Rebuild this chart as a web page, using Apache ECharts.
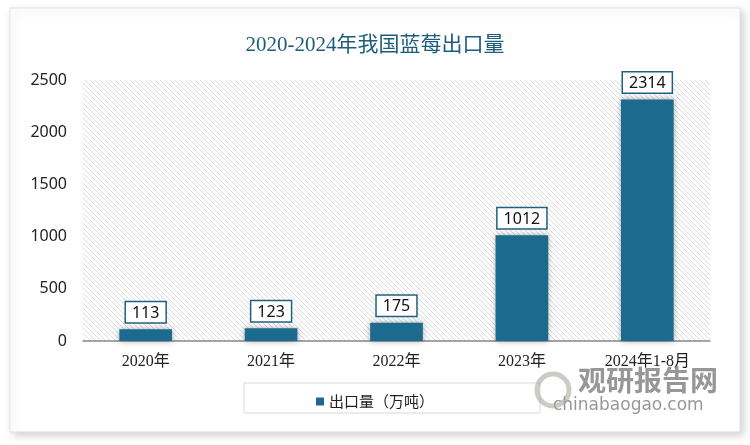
<!DOCTYPE html>
<html><head><meta charset="utf-8">
<script src="https://cdn.jsdelivr.net/npm/echarts@6/dist/echarts.min.js"></script>
<style>html,body{margin:0;padding:0;background:#fff}#c{width:750px;height:445px}</style>
</head><body><div id="c"></div>
<script>
var categories = ['2020年', '2021年', '2022年', '2023年', '2024年1-8月'];
var exportValues = [113, 123, 175, 1012, 2314];
var yTicks = [0, 500, 1000, 1500, 2000, 2500];
var seriesName = '出口量（万吨）';
var titleText = '2020-2024年我国蓝莓出口量';

// hatch pattern
var pc = document.createElement('canvas');
pc.width = 5; pc.height = 5;
var px = pc.getContext('2d');
px.fillStyle = '#ffffff'; px.fillRect(0,0,5,5);
px.strokeStyle = '#dcdcdc'; px.lineWidth = 1;
px.beginPath();
px.moveTo(0,0); px.lineTo(5,5);
px.moveTo(-2.5,2.5); px.lineTo(2.5,7.5);
px.moveTo(2.5,-2.5); px.lineTo(7.5,2.5);
px.stroke();

var chart = echarts.init(document.getElementById('c'));
chart.setOption({
  animation: false,
  backgroundColor: '#ffffff',
  title: {
    text: titleText, left: 'center', top: 30,
    textStyle: {fontFamily: '"Liberation Serif","Noto Sans CJK SC",serif', fontSize: 21, fontWeight: 'normal', color: '#1d5d7b'}
  },
  graphic: [
    {type: 'rect', z: -10, shape: {x: 10, y: 8, width: 730, height: 424}, style: {fill: '#fff', stroke: '#e2e2e2', lineWidth: 1, shadowBlur: 8, shadowOffsetX: 3, shadowOffsetY: 3, shadowColor: 'rgba(0,0,0,0.18)'}},
    {type: 'rect', z: 1, shape: {x: 244, y: 383, width: 296, height: 30}, style: {fill: 'none', stroke: '#d9d9d9', lineWidth: 1}},
    {type: 'text', z: 5, left: 578, top: 366, style: {text: '观研报告网', fontSize: 28, fontWeight: 'bold', fill: 'rgba(125,125,125,0.8)', fontFamily: '"Noto Sans CJK SC",sans-serif'}},
    {type: 'text', z: 5, left: 553, top: 397, style: {text: 'chinabaogao.com', fontSize: 17, fill: 'rgba(125,125,125,0.8)', fontFamily: '"DejaVu Sans",sans-serif'}},
    {type: 'circle', z: 5, shape: {cx: 553, cy: 390, r: 16}, style: {fill: 'none', stroke: 'rgba(170,170,160,0.6)', lineWidth: 5}}
  ],
  legend: {
    data: [seriesName], left: 'center', top: 389, itemWidth: 8, itemHeight: 8, icon: 'rect',
    textStyle: {fontSize: 15, color: '#222', fontFamily: '"Noto Sans CJK SC",sans-serif'}
  },
  grid: {left: 83, right: 40, top: 80, bottom: 104, show: true, borderWidth: 0,
    backgroundColor: {image: pc, repeat: 'repeat'}},
  xAxis: {
    type: 'category', data: categories,
    axisLine: {lineStyle: {color: '#888', width: 1.5}},
    axisTick: {show: false},
    axisLabel: {fontSize: 16, color: '#222', margin: 13, fontFamily: '"Liberation Serif","Noto Sans CJK SC",serif'}
  },
  yAxis: {
    type: 'value', min: yTicks[0], max: yTicks[yTicks.length - 1], interval: yTicks[1] - yTicks[0],
    axisLine: {show: false}, axisTick: {show: false}, splitLine: {show: false},
    axisLabel: {fontSize: 16, color: '#222', margin: 16, fontFamily: '"Noto Sans","DejaVu Sans",sans-serif',
      formatter: function (v) { return String(v); }}
  },
  series: [{
    name: seriesName, type: 'bar', data: exportValues, barWidth: '42%',
    itemStyle: {color: '#1c6b8f', shadowBlur: 6, shadowOffsetX: 0, shadowOffsetY: 0, shadowColor: 'rgba(0,0,0,0.35)'},
    label: {
      show: true, position: 'top', distance: 7,
      fontSize: 16, color: '#111', fontFamily: '"Noto Sans","DejaVu Sans",sans-serif',
      backgroundColor: '#fff', borderColor: '#1f607f', borderWidth: 1.5,
      padding: [3, 6, 1, 6]
    }
  }]
});
</script></body></html>
